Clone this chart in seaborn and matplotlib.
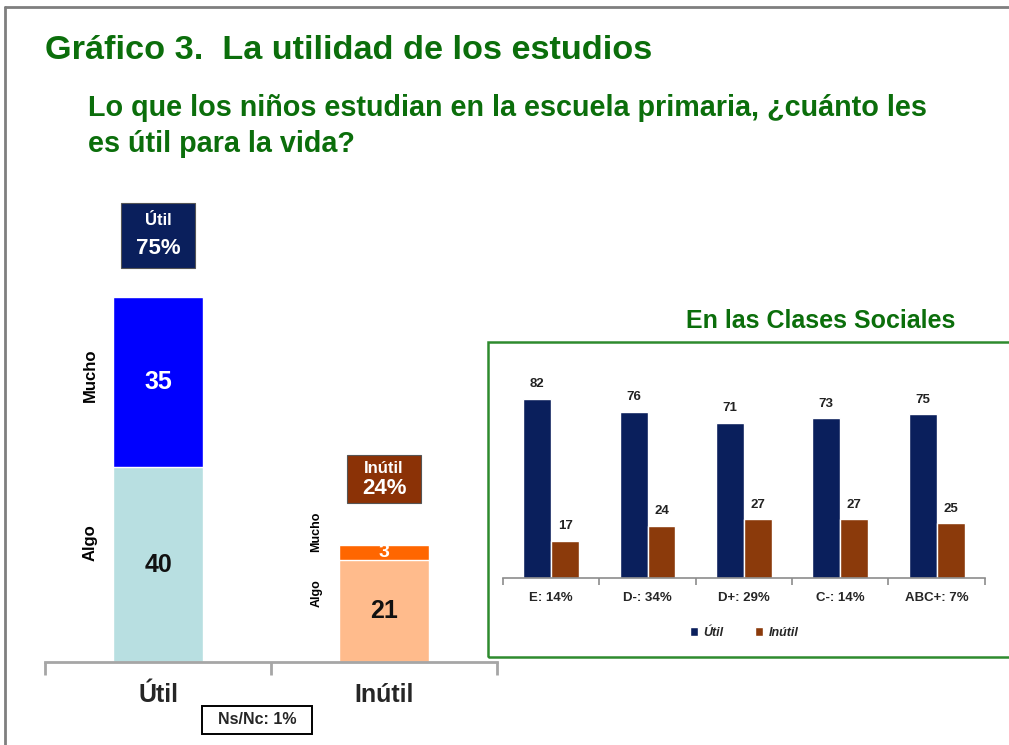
import matplotlib
matplotlib.use("Agg")
import matplotlib.pyplot as plt
from matplotlib.patches import Rectangle
from matplotlib.lines import Line2D
import seaborn as sns
import numpy as np
import pandas as pd

# left chart: how useful is primary school
categorias = ["Útil", "Inútil"]
algo = [40, 21]
mucho = [35, 3]
totales_txt = ["Útil\n75%", "Inútil\n24%"]

# right chart: by social class
clases = ["E: 14%", "D-: 34%", "D+: 29%", "C-: 14%", "ABC+: 7%"]
util = [82, 76, 71, 73, 75]
inutil = [17, 24, 27, 27, 25]

GREEN = "#0b6e0b"
NAVY = "#0a1f5c"
BROWN = "#8b3a0b"


def main():
    sns.set_theme(style="white")
    plt.rcParams["font.family"] = ["Liberation Sans", "DejaVu Sans"]

    fig = plt.figure(figsize=(10.09, 7.45), dpi=100)

    # outer frame (top + left edges visible)
    fig.add_artist(Line2D([0.005, 1.0], [0.991, 0.991], color="#7f7f7f", lw=2))
    fig.add_artist(Line2D([0.005, 0.005], [0.0, 0.991], color="#7f7f7f", lw=2))

    fig.text(0.045, 0.932, "Gráfico 3.  La utilidad de los estudios", color=GREEN,
             fontsize=24.7, fontweight="bold", va="center", ha="left")
    fig.text(0.087, 0.831, "Lo que los niños estudian en la escuela primaria, ¿cuánto les\nes útil para la vida?",
             color=GREEN, fontsize=20.7, fontweight="bold", va="center", ha="left",
             linespacing=1.4)

    # ---- left stacked bars ----
    ax = fig.add_axes([0.0446, 0.1114, 0.448, 0.6336])
    tot = [a + m for a, m in zip(algo, mucho)]
    sns.barplot(x=categorias, y=tot, hue=categorias, palette=["#0000ff", "#ff6600"],
                width=0.4, legend=False, ax=ax, saturation=1)
    sns.barplot(x=categorias, y=algo, hue=categorias, palette=["#b8dfe1", "#ffbb8c"],
                width=0.4, legend=False, ax=ax, saturation=1)
    ax.set_xlim(-0.5, 1.5)
    ax.set_ylim(0, 97)
    for s in ["top", "right", "left"]:
        ax.spines[s].set_visible(False)
    ax.spines["bottom"].set_color("#a6a6a6")
    ax.spines["bottom"].set_linewidth(2)
    ax.set_yticks([])
    ax.set_xticks([0, 1])
    ax.set_xticklabels(categorias, fontsize=18, fontweight="bold")
    ax.set_xticks([-0.5, 0.5, 1.5], minor=True)
    ax.tick_params(axis="x", which="both", bottom=True)
    ax.tick_params(axis="x", which="major", length=0, pad=15)
    ax.tick_params(axis="x", which="minor", length=9, width=2, color="#a6a6a6", direction="out")
    ax.set_xlabel("")

    seg_fs = [18, 18]
    side_fs = [12, 9]
    side_algo_y = [24.6, 14.2]
    side_mucho_y = [59, 26.7]
    box_h = [13.4, 9.9]
    box_gap = [6, 8.6]
    box_col = [NAVY, "#8b3206"]
    for i in range(len(categorias)):
        # segment values
        ax.text(i, algo[i] / 2, str(algo[i]), ha="center", va="center",
                fontsize=seg_fs[i], fontweight="bold", color="#111111")
        ax.text(i, algo[i] + mucho[i] / 2, str(mucho[i]), ha="center", va="center",
                fontsize=seg_fs[i] if mucho[i] > 5 else 14, fontweight="bold", color="white")
        # side labels
        ax.text(i - 0.2 - 0.1, side_algo_y[i], "Algo", rotation=90, ha="center", va="center",
                fontsize=side_fs[i], fontweight="bold", color="black")
        ax.text(i - 0.2 - 0.1, side_mucho_y[i], "Mucho",
                rotation=90, ha="center", va="center",
                fontsize=side_fs[i], fontweight="bold", color="black")
        # total boxes
        y0 = tot[i] + box_gap[i]
        ax.add_patch(Rectangle((i - 0.165, y0), 0.33, box_h[i], facecolor=box_col[i],
                               edgecolor="#555555", lw=0.8, clip_on=False))
        t1, t2 = totales_txt[i].split("\n")
        ax.text(i, y0 + box_h[i] * 0.72, t1, ha="center", va="center", color="white",
                fontsize=12, fontweight="bold")
        ax.text(i, y0 + box_h[i] * 0.3, t2, ha="center", va="center", color="white",
                fontsize=16, fontweight="bold")

    fig.text(0.2547, 0.0336, "  Ns/Nc: 1%  ", ha="center", va="center", fontsize=11.5,
             fontweight="bold",
             bbox=dict(boxstyle="square,pad=0.4", facecolor="white", edgecolor="black", lw=1.4))

    # ---- right grouped bars ----
    fig.add_artist(Rectangle((0.4836, 0.1181), 0.53, 0.4228, transform=fig.transFigure,
                             facecolor="none", edgecolor="#2e8b2e", lw=1.8))
    fig.text(0.8137, 0.569, "En las Clases Sociales", ha="center", va="center",
             color=GREEN, fontsize=18, fontweight="bold")

    df = pd.DataFrame({
        "clase": clases * 2,
        "valor": util + inutil,
        "tipo": ["Útil"] * len(clases) + ["Inútil"] * len(clases),
    })
    ax2 = fig.add_axes([0.4985, 0.2242, 0.4775, 0.2993])
    sns.barplot(data=df, x="clase", y="valor", hue="tipo", palette=[NAVY, BROWN],
                width=0.58, gap=0, ax=ax2, saturation=1)
    for c in ax2.containers:
        ax2.bar_label(c, fontsize=9.5, fontweight="bold", color="#222222", padding=6)
    ax2.set_xlim(-0.5, 4.5)
    ax2.set_ylim(0, 102)
    for s in ["top", "right", "left"]:
        ax2.spines[s].set_visible(False)
    ax2.spines["bottom"].set_color("#8c8c8c")
    ax2.spines["bottom"].set_linewidth(1.2)
    ax2.set_yticks([])
    ax2.set_xlabel("")
    ax2.set_ylabel("")
    ax2.set_xticks(range(len(clases)))
    ax2.set_xticklabels(clases, fontsize=9.5, fontweight="bold")
    ax2.set_xticks(np.arange(-0.5, 5, 1), minor=True)
    ax2.tick_params(axis="x", which="both", bottom=True)
    ax2.tick_params(axis="x", which="major", length=0, pad=10)
    ax2.tick_params(axis="x", which="minor", length=5, width=1.2, color="#8c8c8c", direction="out")
    ax2.set_facecolor("none")
    ax2.legend(loc="upper center", bbox_to_anchor=(0.5, -0.17), ncol=2, frameon=False,
               handlelength=0.7, handleheight=0.7, columnspacing=2.5, handletextpad=0.4,
               prop={"size": 9, "weight": "bold", "style": "italic"})

    fig.savefig("out.png", dpi=100)


if __name__ == "__main__":
    main()
